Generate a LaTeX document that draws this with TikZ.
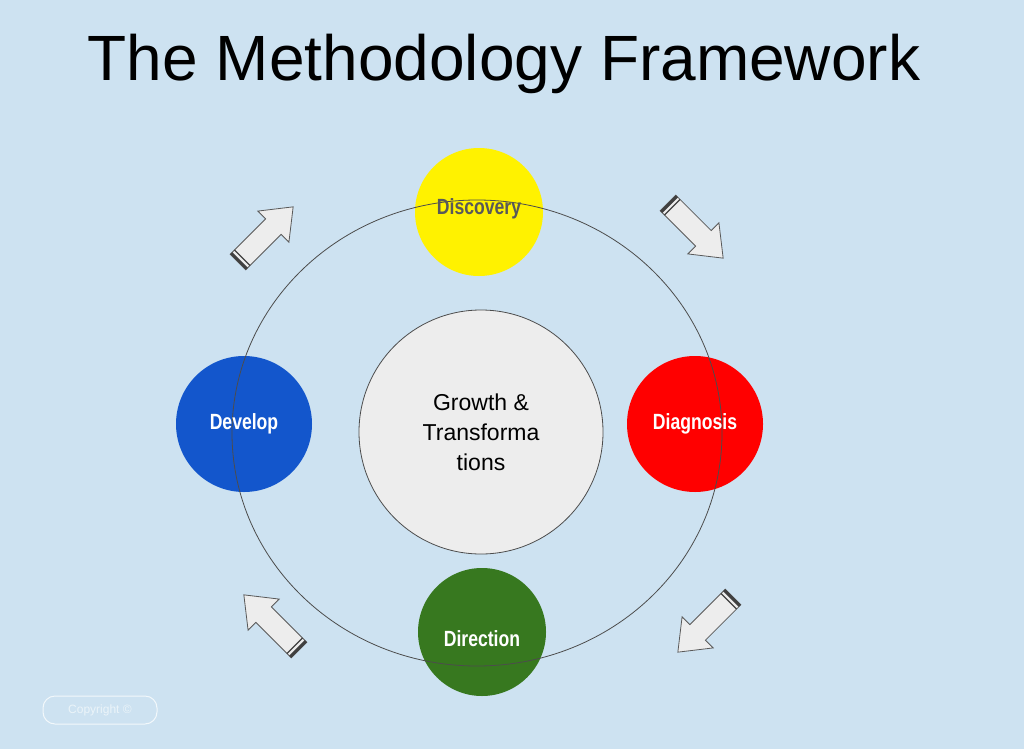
\documentclass[tikz,border=0pt]{standalone}
\usepackage{fontspec}
\setmainfont{Liberation Sans}
\definecolor{bg}{HTML}{CDE2F1}
\definecolor{devblue}{HTML}{1356CC}
\definecolor{dirgreen}{HTML}{37781F}
\begin{document}
\begin{tikzpicture}[x=1pt,y=-1pt,
  lab/.style={font=\fontsize{22}{24}\selectfont\bfseries, xscale=0.8, text=white},
  disc/.style={circle, minimum size=#1, inner sep=0pt},
  blk/.style={fill=white!93!black, draw=black!65, line width=0.8pt, line join=miter}]
\fill[bg] (0,0) rectangle (1024,749);
\useasboundingbox (0,0) rectangle (1024,749);
\node[anchor=center,font=\fontsize{64}{66}\selectfont] (title) at (504,64) {The Methodology Framework};
\node[disc=128pt, fill=yellow] (disc) at (479,212) {};
\node[disc=136pt, fill=devblue] (dev) at (244,424) {};
\node[disc=136pt, fill=red] (diag) at (695,424) {};
\node[disc=128pt, fill=dirgreen] (dir) at (482,632) {};
\node[disc=244pt, fill=white!93!black, draw=black!70, line width=0.8pt, align=center,
  font=\fontsize{23}{30}\selectfont] (ctr) at (481,432) {Growth \&\\Transforma\\tions};
\draw[black!70, line width=0.8pt] (477,433) ellipse (245 and 233);
\node[lab, text=black!65] at (disc.center) [yshift=3pt] {Discovery};
\node[lab] at (dev) {Develop};
\node[lab] at (diag) {Diagnosis};
\node[lab] at (dir) [yshift=-7pt] {Direction};
\foreach \x/\y/\a in {238/262/45, 668/203/-45, 733/597/-135, 299/650/135}{
 \begin{scope}[shift={(\x,\y)}, rotate=\a]
  \draw[blk] (0,-11) -- (50,-11) -- (50,-22) -- (78,0) -- (50,22) -- (50,11) -- (0,11) -- cycle;
  \draw[black!75, line width=3pt] (1.5,-11) -- (1.5,11);
  \draw[black!75, line width=1.2pt] (6,-11) -- (6,11);
 \end{scope}}
\node[draw=white!75!bg, line width=1pt, rounded corners=12pt, minimum width=114pt, minimum height=28pt,
  text=white!60!bg, font=\fontsize{12}{13}\selectfont] (copy) at (100,710) {Copyright \textcopyright};
\end{tikzpicture}
\end{document}
